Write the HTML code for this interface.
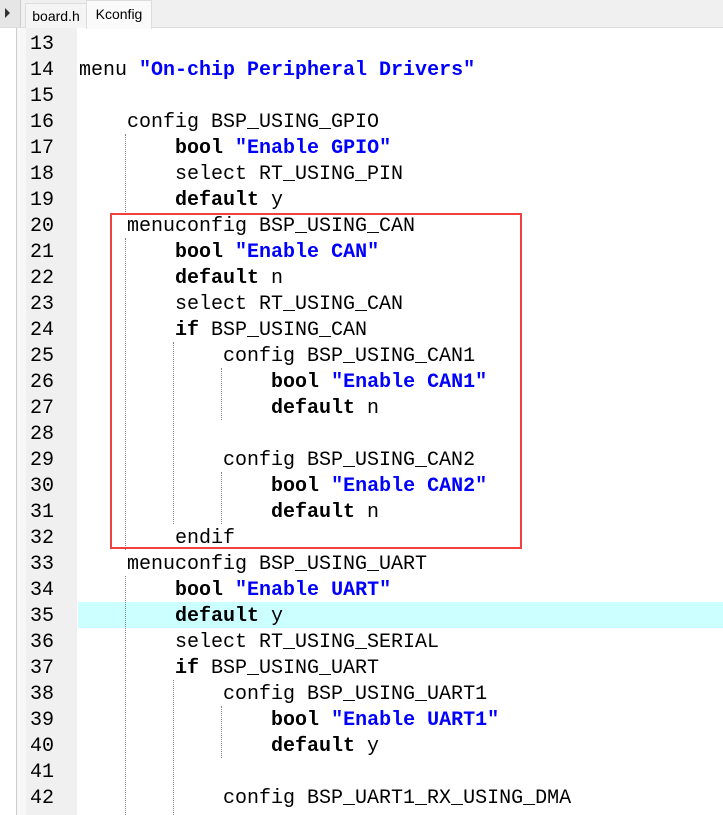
<!DOCTYPE html>
<html><head><meta charset="utf-8"><style>
html,body{margin:0;padding:0;width:723px;height:815px;overflow:hidden;background:#fff;font-family:"Liberation Mono",monospace;}
.abs{position:absolute}
.ln{position:absolute;left:30px;font-size:20px;color:#000;line-height:26px}
.code{position:absolute;font-size:20px;line-height:26px;white-space:pre;color:#000}
b{font-weight:bold}
.s{color:#0000ff;font-weight:bold}
.g{position:absolute;width:0;border-left:1px dotted #888}
</style></head><body>
<div class="abs" style="left:0;top:0;width:723px;height:27px;background:#f0f0f0;border-bottom:1px solid #ddd"></div>
<div class="abs" style="left:0;top:0;width:20px;height:27px;background:#e6e6e6;border-right:1px solid #ccc"></div>
<div class="abs" style="left:5px;top:8px;width:0;height:0;border-top:5px solid transparent;border-bottom:5px solid transparent;border-left:5px solid #333"></div>
<div class="abs" style="left:25px;top:3px;width:60px;height:24px;background:#f5f5f5;border:1px solid #ddd;border-bottom:none;font-family:'Liberation Sans',sans-serif;font-size:14px;line-height:24px;text-align:center;color:#000">board.h</div>
<div class="abs" style="left:86px;top:0px;width:64px;height:28px;background:#fafafa;border:1px solid #ddd;border-bottom:none;font-family:'Liberation Sans',sans-serif;font-size:14px;line-height:26px;text-align:center;color:#000">Kconfig</div>
<div class="abs" style="left:16px;top:28px;width:1px;height:787px;background:#ccc"></div>
<div class="abs" style="left:17px;top:28px;width:9px;height:787px;background:#f7f7f7"></div>
<div class="abs" style="left:26px;top:28px;width:51px;height:787px;background:#f0f0f0"></div>
<div class="abs" style="left:78px;top:602px;width:645px;height:26px;background:#ccffff"></div>
<div class="ln" style="top:32px">13<br>14<br>15<br>16<br>17<br>18<br>19<br>20<br>21<br>22<br>23<br>24<br>25<br>26<br>27<br>28<br>29<br>30<br>31<br>32<br>33<br>34<br>35<br>36<br>37<br>38<br>39<br>40<br>41<br>42</div>
<div class="g" style="left:125px;top:134px;height:78px"></div>
<div class="g" style="left:125px;top:238px;height:312px"></div>
<div class="g" style="left:173px;top:342px;height:182px"></div>
<div class="g" style="left:221px;top:368px;height:52px"></div>
<div class="g" style="left:221px;top:472px;height:52px"></div>
<div class="g" style="left:125px;top:576px;height:239px"></div>
<div class="g" style="left:173px;top:680px;height:135px"></div>
<div class="g" style="left:221px;top:706px;height:52px"></div>
<div class="code" style="left:79px;top:32px">
menu <span class="s">"On-chip Peripheral Drivers"</span>

    config BSP_USING_GPIO
        <b>bool</b> <span class="s">"Enable GPIO"</span>
        select RT_USING_PIN
        <b>default</b> y
    menuconfig BSP_USING_CAN
        <b>bool</b> <span class="s">"Enable CAN"</span>
        <b>default</b> n
        select RT_USING_CAN
        <b>if</b> BSP_USING_CAN
            config BSP_USING_CAN1
                <b>bool</b> <span class="s">"Enable CAN1"</span>
                <b>default</b> n

            config BSP_USING_CAN2
                <b>bool</b> <span class="s">"Enable CAN2"</span>
                <b>default</b> n
        endif
    menuconfig BSP_USING_UART
        <b>bool</b> <span class="s">"Enable UART"</span>
        <b>default</b> y
        select RT_USING_SERIAL
        <b>if</b> BSP_USING_UART
            config BSP_USING_UART1
                <b>bool</b> <span class="s">"Enable UART1"</span>
                <b>default</b> y

            config BSP_UART1_RX_USING_DMA</div>
<div class="abs" style="left:110px;top:213px;width:408px;height:332px;border:2px solid #f04040"></div>
</body></html>
